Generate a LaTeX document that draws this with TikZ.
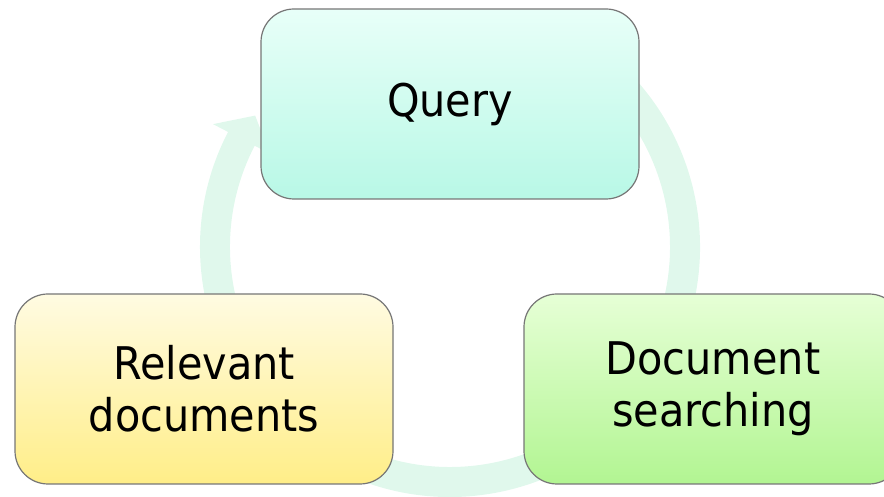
\documentclass[tikz,border=0pt]{standalone}
\usepackage{fontspec}
\setmainfont{DejaVu Sans}[FakeStretch=0.92]
\usetikzlibrary{calc}

\definecolor{ringfill}{RGB}{224,248,236}
\definecolor{boxline}{RGB}{118,118,118}
\definecolor{qtop}{RGB}{232,255,248}
\definecolor{qbot}{RGB}{184,248,230}
\definecolor{rtop}{RGB}{255,251,226}
\definecolor{rbot}{RGB}{255,238,136}
\definecolor{dtop}{RGB}{230,255,214}
\definecolor{dbot}{RGB}{178,245,146}

\tikzset{
  stagebox/.style={
    draw=boxline, line width=1.2pt, rounded corners=33pt,
    minimum width=378pt, minimum height=190pt,
    align=center, inner sep=0pt,
    font=\fontsize{45}{52}\selectfont
  }
}

\begin{document}
\begin{tikzpicture}[x=1pt,y=1pt]
  \useasboundingbox (0,0) rectangle (884,497);

  % faint cycle arrow behind the stages
  \coordinate (c) at (450,250);
  \fill[ringfill]
    ([shift={(c)}]60:250)
    arc[start angle=60, end angle=-207.4, radius=250]
    -- ([shift={(c)}]152.6:267)
    -- ([shift={(c)}]146:235)
    -- ([shift={(c)}]152.6:203)
    -- ([shift={(c)}]152.6:220)
    arc[start angle=-207.4, end angle=60, radius=220]
    -- cycle;

  % the three stages
  \node[stagebox, top color=qtop, bottom color=qbot] (query) at (450,393) {\raisebox{-2pt}{Query}};
  \node[stagebox, top color=rtop, bottom color=rbot] (relevant) at (204,108) {Relevant\\documents};
  \node[stagebox, top color=dtop, bottom color=dbot] (search) at (713,108) {Document\\searching};
\end{tikzpicture}
\end{document}
